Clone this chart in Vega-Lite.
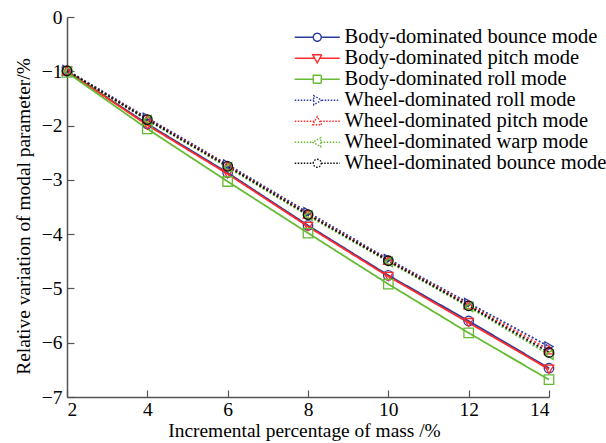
{
  "$schema": "https://vega.github.io/schema/vega-lite/v6.json",
  "width": 482,
  "height": 380,
  "autosize": {"type": "none"},
  "padding": {"left": 67, "top": 17, "right": 57, "bottom": 46},
  "background": "white",
  "config": {
    "view": {"stroke": null},
    "font": "Liberation Serif",
    "axis": {
      "grid": false,
      "domainColor": "#555555",
      "domainWidth": 1.5,
      "tickColor": "#555555",
      "tickWidth": 1.2,
      "tickSize": -7,
      "labelFont": "Liberation Serif",
      "labelFontSize": 19.5,
      "labelColor": "black",
      "titleFont": "Liberation Serif",
      "titleFontSize": 19.4,
      "titleFontWeight": "normal",
      "titleColor": "black",
      "labelPadding": 12
    },
    "legend": {
      "orient": "none",
      "legendX": 240,
      "legendY": 10,
      "padding": 0,
      "labelFont": "Liberation Serif",
      "labelFontSize": 20.5,
      "labelColor": "black",
      "labelLimit": 400,
      "symbolSize": 100,
      "symbolStrokeWidth": 1.4,
      "labelOffset": 17,
      "rowPadding": 0
    }
  },
  "data": {
    "values": [
      {"mode": "Body-dominated bounce mode", "x": 2, "y": -1.0},
      {"mode": "Body-dominated bounce mode", "x": 4, "y": -1.97},
      {"mode": "Body-dominated bounce mode", "x": 6, "y": -2.87},
      {"mode": "Body-dominated bounce mode", "x": 8, "y": -3.84},
      {"mode": "Body-dominated bounce mode", "x": 10, "y": -4.76},
      {"mode": "Body-dominated bounce mode", "x": 12, "y": -5.6},
      {"mode": "Body-dominated bounce mode", "x": 14, "y": -6.47},
      {"mode": "Body-dominated pitch mode", "x": 2, "y": -1.0},
      {"mode": "Body-dominated pitch mode", "x": 4, "y": -1.99},
      {"mode": "Body-dominated pitch mode", "x": 6, "y": -2.89},
      {"mode": "Body-dominated pitch mode", "x": 8, "y": -3.86},
      {"mode": "Body-dominated pitch mode", "x": 10, "y": -4.78},
      {"mode": "Body-dominated pitch mode", "x": 12, "y": -5.63},
      {"mode": "Body-dominated pitch mode", "x": 14, "y": -6.49},
      {"mode": "Body-dominated roll mode", "x": 2, "y": -1.02},
      {"mode": "Body-dominated roll mode", "x": 4, "y": -2.06},
      {"mode": "Body-dominated roll mode", "x": 6, "y": -3.03},
      {"mode": "Body-dominated roll mode", "x": 8, "y": -3.98},
      {"mode": "Body-dominated roll mode", "x": 10, "y": -4.92},
      {"mode": "Body-dominated roll mode", "x": 12, "y": -5.82},
      {"mode": "Body-dominated roll mode", "x": 14, "y": -6.68},
      {"mode": "Wheel-dominated roll mode", "x": 2, "y": -0.98},
      {"mode": "Wheel-dominated roll mode", "x": 4, "y": -1.86},
      {"mode": "Wheel-dominated roll mode", "x": 6, "y": -2.72},
      {"mode": "Wheel-dominated roll mode", "x": 8, "y": -3.6},
      {"mode": "Wheel-dominated roll mode", "x": 10, "y": -4.46},
      {"mode": "Wheel-dominated roll mode", "x": 12, "y": -5.27},
      {"mode": "Wheel-dominated roll mode", "x": 14, "y": -6.07},
      {"mode": "Wheel-dominated pitch mode", "x": 2, "y": -0.99},
      {"mode": "Wheel-dominated pitch mode", "x": 4, "y": -1.88},
      {"mode": "Wheel-dominated pitch mode", "x": 6, "y": -2.74},
      {"mode": "Wheel-dominated pitch mode", "x": 8, "y": -3.63},
      {"mode": "Wheel-dominated pitch mode", "x": 10, "y": -4.48},
      {"mode": "Wheel-dominated pitch mode", "x": 12, "y": -5.3},
      {"mode": "Wheel-dominated pitch mode", "x": 14, "y": -6.13},
      {"mode": "Wheel-dominated warp mode", "x": 2, "y": -1.0},
      {"mode": "Wheel-dominated warp mode", "x": 4, "y": -1.9},
      {"mode": "Wheel-dominated warp mode", "x": 6, "y": -2.77},
      {"mode": "Wheel-dominated warp mode", "x": 8, "y": -3.66},
      {"mode": "Wheel-dominated warp mode", "x": 10, "y": -4.51},
      {"mode": "Wheel-dominated warp mode", "x": 12, "y": -5.34},
      {"mode": "Wheel-dominated warp mode", "x": 14, "y": -6.22},
      {"mode": "Wheel-dominated bounce mode", "x": 2, "y": -0.99},
      {"mode": "Wheel-dominated bounce mode", "x": 4, "y": -1.89},
      {"mode": "Wheel-dominated bounce mode", "x": 6, "y": -2.75},
      {"mode": "Wheel-dominated bounce mode", "x": 8, "y": -3.64},
      {"mode": "Wheel-dominated bounce mode", "x": 10, "y": -4.49},
      {"mode": "Wheel-dominated bounce mode", "x": 12, "y": -5.32},
      {"mode": "Wheel-dominated bounce mode", "x": 14, "y": -6.18}
    ]
  },
  "encoding": {
    "x": {
      "field": "x",
      "type": "quantitative",
      "scale": {"domain": [2, 14], "nice": false, "zero": false},
      "axis": {"values": [2, 4, 6, 8, 10, 12, 14], "title": "Incremental percentage of mass /%", "titlePadding": 2, "labelPadding": 10.5, "titleX": 237}
    },
    "y": {
      "field": "y",
      "type": "quantitative",
      "scale": {"domain": [-7, 0], "nice": false, "zero": false},
      "axis": {"values": [-7, -6, -5, -4, -3, -2, -1, 0], "title": "Relative variation of modal parameter/%", "titlePadding": 8, "titleY": 199}
    }
  },
  "layer": [
    {
      "mark": {"type": "line", "strokeWidth": 1.8},
      "encoding": {
        "color": {
          "field": "mode", "type": "nominal", "legend": null,
          "scale": {
            "domain": ["Body-dominated bounce mode", "Body-dominated pitch mode", "Body-dominated roll mode", "Wheel-dominated roll mode", "Wheel-dominated pitch mode", "Wheel-dominated warp mode", "Wheel-dominated bounce mode"],
            "range": ["#2b3a9c", "#ff2a2a", "#66bb33", "#2b3a9c", "#ff2a2a", "#66bb33", "#111111"]
          }
        },
        "strokeDash": {
          "field": "mode", "type": "nominal", "legend": null,
          "scale": {
            "domain": ["Body-dominated bounce mode", "Body-dominated pitch mode", "Body-dominated roll mode", "Wheel-dominated roll mode", "Wheel-dominated pitch mode", "Wheel-dominated warp mode", "Wheel-dominated bounce mode"],
            "range": [[1, 0], [1, 0], [1, 0], [2, 2], [2, 2], [2, 2], [2, 2]]
          }
        }
      }
    },
    {
      "mark": {"type": "point", "filled": false, "size": 90, "strokeWidth": 1.3, "opacity": 1},
      "encoding": {
        "color": {
          "field": "mode", "type": "nominal", "legend": null,
          "scale": {
            "domain": ["Body-dominated bounce mode", "Body-dominated pitch mode", "Body-dominated roll mode", "Wheel-dominated roll mode", "Wheel-dominated pitch mode", "Wheel-dominated warp mode", "Wheel-dominated bounce mode"],
            "range": ["#2b3a9c", "#ff2a2a", "#66bb33", "#2b3a9c", "#ff2a2a", "#66bb33", "#111111"]
          }
        },
        "shape": {
          "field": "mode", "type": "nominal", "legend": null,
          "scale": {
            "domain": ["Body-dominated bounce mode", "Body-dominated pitch mode", "Body-dominated roll mode", "Wheel-dominated roll mode", "Wheel-dominated pitch mode", "Wheel-dominated warp mode", "Wheel-dominated bounce mode"],
            "range": ["circle", "triangle-down", "square", "triangle-right", "triangle-up", "triangle-left", "circle"]
          }
        }
      }
    },
    {
      "transform": [{"filter": "datum.x > 100"}],
      "mark": {"type": "point", "filled": false, "strokeWidth": 1.3, "opacity": 1},
      "encoding": {
        "color": {
          "field": "mode", "type": "nominal", "title": null,
          "scale": {
            "domain": ["Body-dominated bounce mode", "Body-dominated pitch mode", "Body-dominated roll mode", "Wheel-dominated roll mode", "Wheel-dominated pitch mode", "Wheel-dominated warp mode", "Wheel-dominated bounce mode"],
            "range": ["#2b3a9c", "#ff2a2a", "#66bb33", "#2b3a9c", "#ff2a2a", "#66bb33", "#111111"]
          }
        },
        "strokeDash": {
          "field": "mode", "type": "nominal", "title": null,
          "scale": {
            "domain": ["Body-dominated bounce mode", "Body-dominated pitch mode", "Body-dominated roll mode", "Wheel-dominated roll mode", "Wheel-dominated pitch mode", "Wheel-dominated warp mode", "Wheel-dominated bounce mode"],
            "range": [[1, 0], [1, 0], [1, 0], [1.5, 1.5], [1.5, 1.5], [1.5, 1.5], [1.5, 1.5]]
          }
        },
        "shape": {
          "field": "mode", "type": "nominal", "title": null,
          "scale": {
            "domain": ["Body-dominated bounce mode", "Body-dominated pitch mode", "Body-dominated roll mode", "Wheel-dominated roll mode", "Wheel-dominated pitch mode", "Wheel-dominated warp mode", "Wheel-dominated bounce mode"],
            "range": [
              "M-4.5,0H-0.8M0.8,0H4.5M-0.8,0A0.8,0.8,0,1,1,0.8,0A0.8,0.8,0,1,1,-0.8,0",
              "M-4.5,0H-0.6M0.6,0H4.5M-0.9,-0.7L0.9,-0.7L0,0.9Z",
              "M-4.5,0H-0.8M0.8,0H4.5M-0.8,-0.8H0.8V0.8H-0.8Z",
              "M-4.5,0H-0.7M0.9,0H4.5M-0.7,-0.9L0.9,0L-0.7,0.9Z",
              "M-4.5,0H-0.6M0.6,0H4.5M-0.9,0.7L0.9,0.7L0,-0.9Z",
              "M-4.5,0H-0.9M0.7,0H4.5M0.7,-0.9L-0.9,0L0.7,0.9Z",
              "M-4.5,0H-0.8M0.8,0H4.5M-0.8,0A0.8,0.8,0,1,1,0.8,0A0.8,0.8,0,1,1,-0.8,0"
            ]
          }
        }
      }
    }
  ],
  "resolve": {"scale": {"color": "independent", "shape": "independent", "strokeDash": "independent"}}
}
